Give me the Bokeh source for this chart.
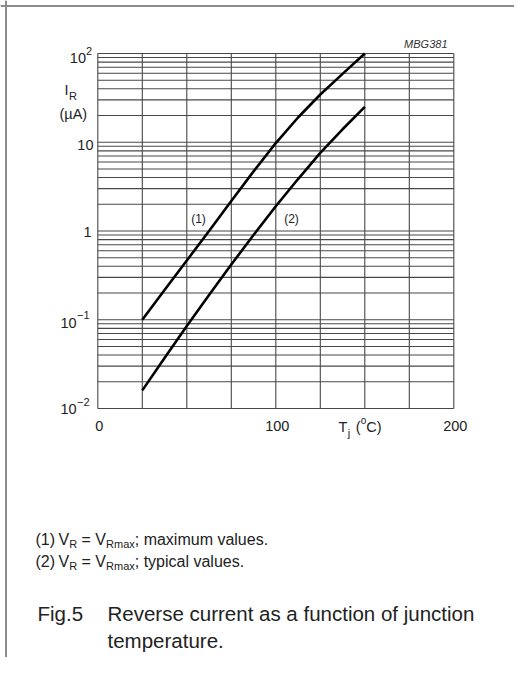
from bokeh.plotting import figure
from bokeh.models import Label, Range1d, Span
from bokeh.embed import file_html
from bokeh.resources import INLINE

# ---- data ----
tj_c = [25, 37.5, 50, 62.5, 75, 87.5, 100, 112.5, 125, 137.5, 150]
ir_max_ua = [0.1, 0.216, 0.465, 1.0, 2.18, 4.7, 9.8, 19.0, 34.5, 59, 100]   # curve (1)
ir_typ_ua = [0.016, 0.037, 0.085, 0.19, 0.42, 0.9, 1.9, 3.85, 7.6, 14, 25]  # curve (2)

x_grid_ticks = [0, 25, 50, 75, 100, 125, 150, 175, 200]
x_tick_values = [0, 100, 200]
x_tick_labels = ["0", "100", "200"]
y_grid_values = [m * d for d in [0.01, 0.1, 1, 10] for m in range(1, 10)] + [100]
X_MIN, X_MAX = 0, 200
Y_MIN, Y_MAX = 0.01, 100

# ---- layout: image pixel <-> data coordinates ----
ORG = 0.0
W, H = 514, 657
X0, X1 = 97.3, 453.3      # pixel x of 0 and 200 degC
Y0, DEC = 53.0, 88.75     # pixel y of 100 uA, pixels per decade
PXC = (X1 - X0) / 200.0
xr0 = -(X0 - ORG) / PXC
xr1 = xr0 + W / PXC
ltop = 2 + (Y0 - ORG) / DEC
lbot = ltop - H / DEC


def dx(px):
    return (px - X0) / PXC


def dy(py):
    return 10 ** (2 - (py - Y0) / DEC)


# Arial / Liberation Sans advance widths (per em) for text placement
ADV = {" ": .278, "(": .333, ")": .333, "=": .584, ";": .278, ".": .278,
       "V": .667, "R": .722, "T": .611, "C": .722, "I": .278, "A": .667,
       "\u2212": .584, "\u00b5": .556, "a": .556, "m": .833, "x": .5, "j": .222}


def tw(s, size):
    return sum(ADV.get(c, .556) for c in s) * size


p = figure(width=W, height=H, x_range=Range1d(xr0, xr1),
           y_range=Range1d(10 ** lbot, 10 ** ltop), y_axis_type="log",
           toolbar_location=None, output_backend="svg", min_border=0,
           min_border_left=0, min_border_right=0, min_border_top=0, min_border_bottom=0,
           background_fill_color="white", border_fill_color="white")
p.axis.visible = False
p.grid.visible = False
p.outline_line_color = None

# outer frame of the datasheet box
p.add_layout(Span(location=dx(5.5), dimension="height", line_color="#8c8c8c", line_width=2))
p.add_layout(Span(location=dy(5.5), dimension="width", line_color="#8c8c8c", line_width=2))

# chart grid (log minor lines, 25 degC verticals)
gc = "#484848"
p.segment(x0=x_grid_ticks, y0=[Y_MIN] * len(x_grid_ticks), x1=x_grid_ticks,
          y1=[Y_MAX] * len(x_grid_ticks), line_color=gc, line_width=1.1)
p.segment(x0=[X_MIN] * len(y_grid_values), y0=y_grid_values,
          x1=[X_MAX] * len(y_grid_values), y1=y_grid_values, line_color=gc, line_width=1.1)

p.line(tj_c, ir_max_ua, line_color="black", line_width=2.6)
p.line(tj_c, ir_typ_ua, line_color="black", line_width=2.6)

FONT = "Liberation Sans"
TC = "#222222"


def L(px, py, text, size, align="left", style="normal", color=TC):
    p.add_layout(Label(x=dx(px), y=dy(py), text=text, text_font=FONT,
                       text_font_size=f"{size}px", text_align=align,
                       text_baseline="middle", text_font_style=style,
                       text_color=color))


TS, SS = 14.5, 11   # tick text size, super/subscript size

# y tick labels
L(85.5, 57, "10", TS, align="right")
L(85.5, 50, "2", SS)
L(93, 144, "10", TS, align="right")
L(91, 231, "1", TS, align="right")
L(60, 322, "10", TS)
L(60 + tw("10", TS) + 0.5, 314, "\u22121", SS)
L(60, 408, "10", TS)
L(60 + tw("10", TS) + 0.5, 401, "\u22122", SS)

# y axis title
L(64, 89, "I", TS)
L(64 + tw("I", TS) + 0.5, 95, "R", SS)
L(59, 113, "(\u00b5A)", TS)

# x tick labels
for v, t in zip(x_tick_values, x_tick_labels):
    L(X0 + PXC * v + 1.5, 425, t, TS, align="center")

# x axis title  T_j (°C)
xt = 338
L(xt, 426, "T", TS)
xt += tw("T", TS) + 0.5
L(xt, 432, "j", SS)
xt += tw("j", SS) + tw(" ", TS) + 1.5
L(xt, 426, "(", TS)
xt += tw("(", TS)
L(xt, 420, "o", 10)
xt += tw("o", 10)
L(xt, 426, "C)", TS)

# drawing code
L(447, 43, "MBG381", 11, align="right", style="italic", color="#333333")

# curve labels
L(198, 218, "(1)", 12, align="center")
L(291, 218, "(2)", 12, align="center")

# notes:  (n)  V_R = V_Rmax; ... values.
NS, NSS = 16, 11
for num, py, tail in [("(1)", 539, "; maximum values."), ("(2)", 561, "; typical values.")]:
    L(35, py, num, NS)
    xn = 58
    L(xn, py, "V", NS)
    xn += tw("V", NS)
    L(xn, py + 4, "R", NSS)
    xn += tw("R", NSS) + tw(" ", NS)
    L(xn, py, "=", NS)
    xn += tw("= ", NS)
    L(xn, py, "V", NS)
    xn += tw("V", NS)
    L(xn, py + 4, "Rmax", NSS)
    xn += tw("Rmax", NSS)
    L(xn, py, tail, NS)

# caption
CS = 20.5
L(37, 613, "Fig.5", CS)
L(107, 613, "Reverse current as a function of junction", CS)
L(107, 640, "temperature.", CS)

open("out.html", "w").write(file_html(p, INLINE))
